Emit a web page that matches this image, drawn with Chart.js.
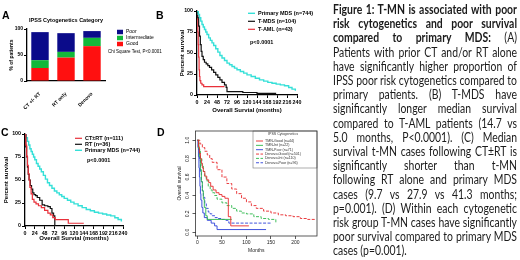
<!DOCTYPE html>
<html>
<head>
<meta charset="utf-8">
<script src="https://cdn.jsdelivr.net/npm/chart.js@4.4.0/dist/chart.umd.min.js"></script>
<style>
  html, body { margin: 0; padding: 0; background: #fff; }
  body { width: 520px; height: 260px; position: relative; overflow: hidden; font-family: "Liberation Sans", Arial, sans-serif; color: #000; }
  canvas { position: absolute; }
  .tag { position: absolute; font-weight: bold; font-size: 10.5px; line-height: 10.5px; }
  .note { position: absolute; white-space: nowrap; line-height: 1; }
  #cap { position: absolute; left: 333px; top: 3px; transform-origin: 0 0;
         font-family: Lato, sans-serif; font-size: 12.5px; line-height: 14.2px; color: #1b1b1b; }
  #cap div { white-space: nowrap; text-align: justify; text-align-last: justify; }
  #cap div.last { text-align-last: left; }
</style>
</head>
<body>

<canvas id="chartA" width="165" height="125" style="left:0;top:0"></canvas>
<canvas id="chartB" width="192" height="118" style="left:140px;top:0"></canvas>
<canvas id="chartC" width="165" height="125" style="left:0;top:125px"></canvas>
<canvas id="chartD" width="160" height="134" style="left:165px;top:126px"></canvas>

<div class="tag" style="left:2px;top:10px">A</div>
<div class="tag" style="left:156px;top:10px">B</div>
<div class="tag" style="left:1px;top:127px">C</div>
<div class="tag" style="left:157px;top:127px">D</div>

<div class="note" style="left:16px;top:18px;width:100px;text-align:center;font-weight:bold;font-size:5.5px">IPSS Cytogenetics Category</div>
<div class="note" style="left:108px;top:50px;font-size:4.5px">Chi Square Test, P&lt;0.0001</div>
<div class="note" style="left:250px;top:40px;font-weight:bold;font-size:5.5px">p&lt;0.0001</div>
<div class="note" style="left:87px;top:158px;font-weight:bold;font-size:5.5px">p&lt;0.0001</div>

<div id="cap">
  <div><b>Figure 1: T-MN is associated with poor</b></div>
  <div><b>risk cytogenetics and poor survival</b></div>
  <div><b>compared to primary MDS:</b> (A)</div>
  <div>Patients with prior CT and/or RT alone</div>
  <div>have significantly higher proportion of</div>
  <div>IPSS poor risk cytogenetics compared to</div>
  <div>primary patients. (B) T-MDS have</div>
  <div>significantly longer median survival</div>
  <div>compared to T-AML patients (14.7 vs</div>
  <div>5.0 months, P&lt;0.0001). (C) Median</div>
  <div>survival t-MN cases following CT±RT is</div>
  <div>significantly shorter than t-MN</div>
  <div>following RT alone and primary MDS</div>
  <div>cases (9.7 vs 27.9 vs 41.3 months;</div>
  <div>p=0.001). (D) Within each cytogenetic</div>
  <div>risk group T-MN cases have significantly</div>
  <div>poor survival compared to primary MDS</div>
  <div class="last">cases (p=0.001).</div>
</div>

<script>
// panel A - stacked bars (% of patients)
const aCats = ['CT +/- RT', 'RT only', 'Denovo'];
const aGood = [25, 45, 67];
const aInter = [15, 11, 16];
const aPoor = [54, 36, 13];
const aTicksY = [0, 50, 100];

// panels B and C - survival in %, months
const survTicksX = [0, 24, 48, 72, 96, 120, 144, 168, 192, 216, 240];
const survTicksY = [0, 25, 50, 75, 100];

const mdsMonths = [0, 3, 6, 9, 12, 15, 18, 21, 24, 28, 32, 36, 40, 45, 50, 55, 60, 66, 72, 78, 84, 90, 96, 104, 112, 120, 130, 140, 150, 160, 170, 180, 190, 200, 210, 220, 228, 236];
const mdsSurv   = [100, 96, 92, 88, 84, 81, 78, 75, 72, 68, 65, 62, 59, 55, 51, 47, 44, 41, 38, 36, 34, 32, 30, 28, 26, 24, 22, 20, 18, 16.5, 15, 14, 13, 12, 11, 9, 7, 5];

const tmdsMonths = [0, 2, 4, 6, 8, 10, 12, 15, 18, 22, 26, 30, 35, 40, 45, 50, 55, 60, 66, 70, 72, 110, 144, 190];
const tmdsSurv   = [100, 92, 82, 70, 60, 52, 46, 42, 39, 37, 35, 33, 30, 27, 24, 21, 18, 15, 12, 9, 4, 3, 2, 2];

const tamlMonths = [0, 1, 2, 3, 4, 5, 6, 7, 9, 12, 16, 66];
const tamlSurv   = [100, 90, 75, 60, 45, 30, 22, 17, 14, 12, 10, 10];

const ctrtMonths = [0, 2, 4, 6, 8, 10, 12, 15, 18, 22, 27, 33, 40, 48, 56, 62, 68, 74, 106, 144];
const ctrtSurv   = [100, 88, 76, 66, 57, 50, 42, 35, 29, 26, 24, 22, 20, 17, 14, 12, 9, 7, 3, 3];

const rtMonths = [0, 2, 4, 6, 8, 10, 13, 16, 19, 22, 26, 30, 36, 42, 48, 56, 62, 66, 70, 73];
const rtSurv   = [100, 86, 75, 64, 56, 50, 44, 40, 36, 34, 33, 31, 28, 23, 22, 21, 19, 14, 11, 0];

// panel D - survival fraction by cytogenetic group
const dTicksX = [0, 50, 100, 150, 200];
const dTicksY = [0, 0.2, 0.4, 0.6, 0.8, 1.0];

const tmnGoodMonths = [0, 2, 4, 6, 8, 10, 12, 15, 19, 23, 27, 32, 38, 44, 50, 56, 63, 68, 105];
const tmnGoodSurv   = [1, 0.93, 0.86, 0.8, 0.75, 0.7, 0.66, 0.61, 0.57, 0.54, 0.5, 0.46, 0.43, 0.41, 0.39, 0.37, 0.17, 0.07, 0.07];
const tmnIntMonths  = [0, 2, 4, 6, 8, 10, 12, 14, 17, 20, 70];
const tmnIntSurv    = [1, 0.91, 0.82, 0.68, 0.55, 0.45, 0.36, 0.27, 0.18, 0.14, 0.14];
const tmnPoorMonths = [0, 1, 2, 3, 4, 5, 6, 7, 9, 11, 14, 20, 28, 35, 40, 140];
const tmnPoorSurv   = [1, 0.92, 0.82, 0.7, 0.6, 0.5, 0.42, 0.35, 0.27, 0.21, 0.16, 0.13, 0.1, 0.07, 0.03, 0.03];
const novoGoodMonths = [0, 5, 10, 15, 20, 25, 30, 40, 50, 60, 70, 80, 90, 100, 110, 120, 135, 150, 165, 180, 195, 210, 225, 240];
const novoGoodSurv   = [1, 0.96, 0.92, 0.88, 0.84, 0.8, 0.76, 0.68, 0.6, 0.53, 0.47, 0.42, 0.37, 0.33, 0.29, 0.26, 0.23, 0.21, 0.19, 0.18, 0.17, 0.15, 0.14, 0.14];
const novoIntMonths  = [0, 3, 6, 9, 12, 15, 18, 22, 26, 30, 35, 40, 50, 60, 70, 80, 90, 100, 115, 130, 145, 160];
const novoIntSurv    = [1, 0.9, 0.8, 0.72, 0.66, 0.6, 0.56, 0.5, 0.46, 0.43, 0.4, 0.36, 0.32, 0.29, 0.26, 0.23, 0.21, 0.2, 0.17, 0.15, 0.14, 0.1];
const novoPoorMonths = [0, 2, 4, 6, 8, 10, 12, 15, 18, 22, 26, 30, 36, 42, 50, 58, 64, 150];
const novoPoorSurv   = [1, 0.9, 0.78, 0.66, 0.55, 0.45, 0.38, 0.31, 0.26, 0.22, 0.2, 0.18, 0.16, 0.15, 0.14, 0.13, 0.1, 0.1];

const FAM = 'Liberation Sans';
const bold = size => ({ family: FAM, size: size, weight: 'bold', lineHeight: 1.2 });
const plain = size => ({ family: FAM, size: size, weight: 'normal', lineHeight: 1.2 });

// caption: squeeze the widest line into the text column, the rest justify to it
const cap = document.getElementById('cap');
let widest = 0;
for (const row of cap.children) {
  row.style.display = 'inline-block';
  widest = Math.max(widest, row.getBoundingClientRect().width);
  row.style.display = '';
}
cap.style.width = widest + 'px';
cap.style.transform = 'scaleX(' + (184 / widest) + ')';

// little legend drawn from the datasets themselves
const keyPlugin = {
  id: 'key',
  afterDraw(chart, args, o) {
    if (!o || !o.order) return;
    const ctx = chart.ctx;
    ctx.save();
    if (o.box) {
      ctx.strokeStyle = '#777';
      ctx.lineWidth = 0.6;
      ctx.strokeRect(o.box[0], o.box[1], o.box[2], o.box[3]);
    }
    ctx.font = o.font;
    ctx.textBaseline = 'middle';
    if (o.title) {
      ctx.fillStyle = o.color;
      ctx.textAlign = 'center';
      ctx.fillText(o.title, o.titleX, o.titleY);
    }
    ctx.textAlign = 'left';
    o.order.forEach((idx, k) => {
      const ds = chart.data.datasets[idx];
      const y = o.y + k * o.step;
      if (o.rect) {
        ctx.fillStyle = ds.backgroundColor;
        ctx.fillRect(o.x, y - o.rect / 2, o.len, o.rect);
      } else {
        ctx.strokeStyle = ds.borderColor;
        ctx.lineWidth = ds.borderWidth;
        ctx.setLineDash(ds.borderDash || []);
        ctx.beginPath();
        ctx.moveTo(o.x, y);
        ctx.lineTo(o.x + o.len, y);
        ctx.stroke();
        ctx.setLineDash([]);
      }
      ctx.fillStyle = o.color;
      ctx.fillText(ds.label, o.x + o.len + o.gap, y);
    });
    ctx.restore();
  }
};

// R style box round the plot
const framePlugin = {
  id: 'frame',
  afterDraw(chart, args, o) {
    if (!o || !o.on) return;
    const a = chart.chartArea;
    const ctx = chart.ctx;
    ctx.save();
    ctx.strokeStyle = '#333';
    ctx.lineWidth = 0.8;
    ctx.strokeRect(a.left, a.top, a.right - a.left, a.bottom - a.top);
    ctx.restore();
  }
};

const outTicks = { display: true, drawOnChartArea: false, drawTicks: true, tickLength: 3, color: '#000', lineWidth: 1 };
const axisLine = { display: true, color: '#000', width: 1.3 };

function km(months, surv) {
  return months.map((m, i) => ({ x: m, y: surv[i] }));
}
function curve(label, months, surv, color, width, dash) {
  return { label: label, data: km(months, surv), borderColor: color, borderWidth: width,
           borderDash: dash || [], stepped: true, pointRadius: 0, fill: false, tension: 0 };
}

// A
new Chart(document.getElementById('chartA'), {
  type: 'bar',
  data: {
    labels: aCats,
    datasets: [
      { label: 'Good', data: aGood, backgroundColor: '#ff1010' },
      { label: 'Intermediate', data: aInter, backgroundColor: '#13b93a' },
      { label: 'Poor', data: aPoor, backgroundColor: '#0b0b8a' }
    ]
  },
  options: {
    responsive: false, animation: false, events: [],
    layout: { padding: { left: 9, top: 29, right: 60, bottom: 0 } },
    datasets: { bar: { categoryPercentage: 1, barPercentage: 0.67, borderWidth: 0 } },
    plugins: {
      legend: { display: false }, tooltip: { enabled: false },
      key: { order: [2, 1, 0], x: 117, y: 32, step: 6, len: 6, rect: 4.5, gap: 3, font: 'normal 5px "Liberation Sans"', color: '#000' }
    },
    scales: {
      x: {
        stacked: true,
        afterFit: s => { s.height = 44; },
        grid: { display: false },
        border: axisLine,
        ticks: { font: bold(5), color: '#000', minRotation: 45, maxRotation: 45, padding: 2 }
      },
      y: {
        stacked: true, min: 0, max: 100,
        afterBuildTicks: s => { s.ticks = aTicksY.map(v => ({ value: v })); },
        afterFit: s => { s.width = 18; },
        grid: outTicks,
        border: axisLine,
        ticks: { font: bold(5), color: '#000', padding: 1 },
        title: { display: true, text: '% of patients', font: bold(5), color: '#000', padding: 0 }
      }
    }
  },
  plugins: [keyPlugin]
});

function survChart(id, datasets, pad, xh, yw, key) {
  new Chart(document.getElementById(id), {
    type: 'line',
    data: { datasets: datasets },
    options: {
      responsive: false, animation: false, events: [],
      layout: { padding: pad },
      plugins: { legend: { display: false }, tooltip: { enabled: false }, key: key },
      scales: {
        x: {
          type: 'linear', min: 0, max: 240,
          afterBuildTicks: s => { s.ticks = survTicksX.map(v => ({ value: v })); },
          afterFit: s => { s.height = xh; },
          grid: outTicks,
          border: axisLine,
          ticks: { font: bold(5.3), color: '#000', padding: 1, autoSkip: false, maxRotation: 0 },
          title: { display: true, text: 'Overall Survial (months)', font: bold(6), color: '#000', padding: 0 }
        },
        y: {
          min: 0, max: 100,
          afterBuildTicks: s => { s.ticks = survTicksY.map(v => ({ value: v })); },
          afterFit: s => { s.width = yw; },
          grid: outTicks,
          border: axisLine,
          ticks: { font: bold(5.3), color: '#000', padding: 1 },
          title: { display: true, text: 'Percent survival', font: bold(6), color: '#000', padding: 0 }
        }
      }
    },
    plugins: [keyPlugin]
  });
}

// B
survChart('chartB', [
  curve('Primary MDS (n=744)', mdsMonths, mdsSurv, '#35e0d8', 1.4),
  curve('T-MDS (n=104)', tmdsMonths, tmdsSurv, '#111111', 1.2),
  curve('T-AML (n=43)', tamlMonths, tamlSurv, '#e8303a', 1.2)
], { left: 39, top: 11, right: 35, bottom: 4 }, 19, 18,
  { order: [0, 1, 2], x: 108, y: 13.3, step: 8, len: 7, gap: 3, font: 'bold 5.5px "Liberation Sans"', color: '#000' });

// C
survChart('chartC', [
  curve('CT±RT (n=111)', ctrtMonths, ctrtSurv, '#e8303a', 1.2),
  curve('RT (n=36)', rtMonths, rtSurv, '#111111', 1.2),
  curve('Primary MDS (n=744)', mdsMonths, mdsSurv, '#35e0d8', 1.4)
], { left: 3, top: 9, right: 42, bottom: 8 }, 16, 22,
  { order: [0, 1, 2], x: 75, y: 13.3, step: 6, len: 7, gap: 3, font: 'bold 5.5px "Liberation Sans"', color: '#000' });

// D
new Chart(document.getElementById('chartD'), {
  type: 'line',
  data: {
    datasets: [
      curve('TMN-Good (n=44)', tmnGoodMonths, tmnGoodSurv, '#e8282b', 0.9),
      curve('TMN-Int (n=22)', tmnIntMonths, tmnIntSurv, '#2db84b', 0.9),
      curve('TMN-Poor (n=71)', tmnPoorMonths, tmnPoorSurv, '#2b3fd9', 0.9),
      curve('Denovo-Good (n=501)', novoGoodMonths, novoGoodSurv, '#e8282b', 0.9, [3, 1.5]),
      curve('Denovo-Int (n=110)', novoIntMonths, novoIntSurv, '#2db84b', 0.9, [3, 1.5]),
      curve('Denovo-Poor (n=96)', novoPoorMonths, novoPoorSurv, '#2b3fd9', 0.9, [3, 1.5])
    ]
  },
  options: {
    responsive: false, animation: false, events: [],
    layout: { padding: { left: 12, top: 5, right: 8, bottom: 6 } },
    plugins: {
      legend: { display: false }, tooltip: { enabled: false },
      frame: { on: true },
      key: { order: [0, 1, 2, 3, 4, 5], x: 91, y: 15, step: 4.35, len: 7, gap: 2,
             font: 'normal 3.6px "Liberation Sans"', color: '#333',
             title: 'IPSS Cytogenetics', titleX: 118, titleY: 7.8, box: [88, 5, 64, 37] }
    },
    scales: {
      x: {
        type: 'linear', min: -4, max: 244,
        afterBuildTicks: s => { s.ticks = dTicksX.map(v => ({ value: v })); },
        afterFit: s => { s.height = 18; },
        grid: { display: true, drawOnChartArea: false, drawTicks: true, tickLength: 3, color: '#333', lineWidth: 0.8 },
        border: { display: false },
        ticks: { font: plain(5), color: '#222', padding: 1, autoSkip: false, maxRotation: 0 },
        title: { display: true, text: 'Months', font: plain(5), color: '#222', padding: 0 }
      },
      y: {
        min: -0.04, max: 1.1,
        afterBuildTicks: s => { s.ticks = dTicksY.map(v => ({ value: v })); },
        afterFit: s => { s.width = 18.5; },
        grid: { display: true, drawOnChartArea: false, drawTicks: true, tickLength: 3, color: '#333', lineWidth: 0.8 },
        border: { display: false },
        ticks: { font: plain(5), color: '#222', padding: 1, minRotation: 90, maxRotation: 90, crossAlign: 'center',
                 callback: v => Number(v).toFixed(1) },
        title: { display: true, text: 'Overall survival', font: plain(5), color: '#222', padding: 0 }
      }
    }
  },
  plugins: [keyPlugin, framePlugin]
});
</script>
</body>
</html>
